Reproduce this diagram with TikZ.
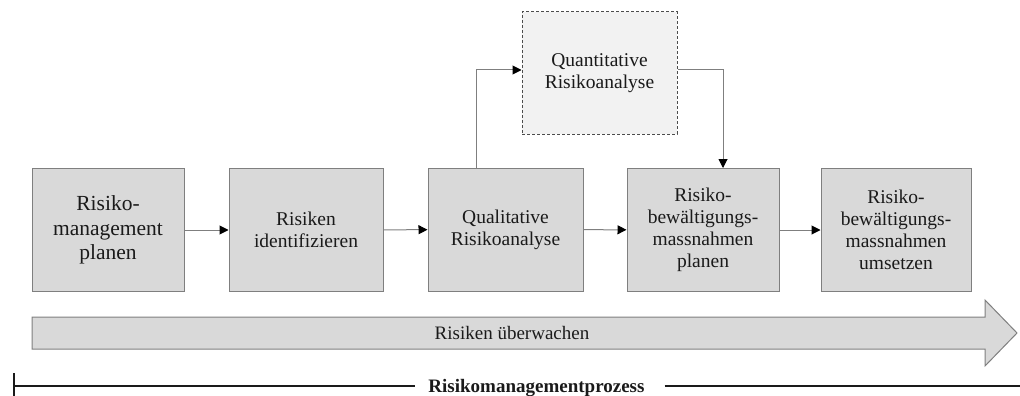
\documentclass[tikz,border=0pt]{standalone}
\usepackage{fontspec}
\setmainfont{Liberation Serif}
\usetikzlibrary{arrows.meta,calc}
\definecolor{boxfill}{HTML}{D9D9D9}
\definecolor{boxline}{HTML}{7F7F7F}
\definecolor{qfill}{HTML}{F2F2F2}
\definecolor{txt}{HTML}{1A1A1A}
\tikzset{
  stepbox/.style={draw=boxline, fill=boxfill, line width=1pt, minimum width=152pt, minimum height=123pt,
    inner sep=0pt, align=center, text=txt, font=\fontsize{19.5}{22}\selectfont},
  bigbox/.style={stepbox, font=\fontsize{21.5}{24.5}\selectfont},
  quantbox/.style={stepbox, fill=qfill, draw=black!70, dash pattern=on 3pt off 2pt, minimum width=155pt, minimum height=122pt},
  conn/.style={draw=boxline, line width=1pt, -{Triangle[length=9pt,width=9pt,color=black]}},
}
\begin{document}
\begin{tikzpicture}[x=1pt,y=-1pt]
\useasboundingbox (0,0) rectangle (1020,396);
\node[bigbox] (b1) at (108,230) {Risiko-\\management\\planen};
\node[stepbox, minimum width=154pt] (b2) at (306,230) {Risiken\\identifizieren};
\node[stepbox, minimum width=155pt] (b3) at (505.5,229.5) {Qualitative\\Risikoanalyse};
\node[stepbox] (b4) at (703,230) {Risiko-\\bewältigungs-\\massnahmen\\planen};
\node[stepbox, minimum width=150pt] (b5) at (896,230) {Risiko-\\bewältigungs-\\massnahmen\\umsetzen};
\node[quantbox] (q) at (599.5,73) {Quantitative\\Risikoanalyse};

\draw[conn] (b1) -- (b2);
\draw[conn] (b2) -- (b3);
\draw[conn] (b3) -- (b4);
\draw[conn] (b4) -- (b5);
\draw[conn] ([xshift=-29.5pt]b3.north) |- ([yshift=3pt]q.west);
\draw[conn] ([yshift=3pt]q.east) -| ([xshift=20pt]b4.north);

\draw[draw=boxline, fill=boxfill, line width=1pt]
  (32,317) -- (985,317) -- (985,300) -- (1017,333) -- (985,366) -- (985,349) -- (32,349) -- cycle;
\node[text=txt, font=\fontsize{19}{22}\selectfont] (mon) at (512,333) {Risiken überwachen};

\node[anchor=base, text=txt, inner sep=0pt, font=\bfseries\fontsize{19}{22}\selectfont] (proc) at (536.5,392) {Risikomanagementprozess};
\coordinate (lstart) at (14,386);
\coordinate (lend) at (1020,386);
\draw[line width=1.5pt, txt] (14,373) -- (14,396);
\draw[line width=1.5pt, txt] (lstart) -- (lstart -| {$(proc.west)+(-13pt,0)$});
\draw[line width=1.5pt, txt] (lend -| {$(proc.east)+(20pt,0)$}) -- (lend);
\end{tikzpicture}
\end{document}
